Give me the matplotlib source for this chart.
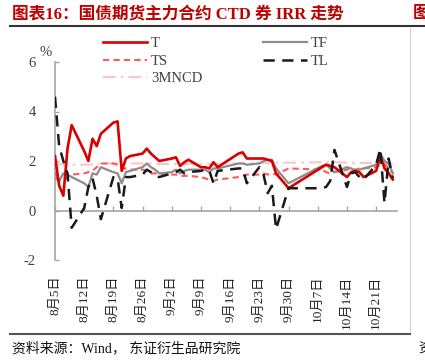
import matplotlib
matplotlib.use("Agg")
import matplotlib.pyplot as plt
from matplotlib.lines import Line2D
import pandas as pd

dates = pd.to_datetime([
    "2024-08-05", "2024-08-06", "2024-08-07", "2024-08-08", "2024-08-09",
    "2024-08-12", "2024-08-13", "2024-08-14", "2024-08-15", "2024-08-16",
    "2024-08-19", "2024-08-20", "2024-08-21", "2024-08-22", "2024-08-23",
    "2024-08-26", "2024-08-27", "2024-08-28", "2024-08-29", "2024-08-30",
    "2024-09-02", "2024-09-03", "2024-09-04", "2024-09-05", "2024-09-06",
    "2024-09-09", "2024-09-10", "2024-09-11", "2024-09-12", "2024-09-13",
    "2024-09-18", "2024-09-19", "2024-09-20",
    "2024-09-23", "2024-09-24", "2024-09-25", "2024-09-26", "2024-09-27",
    "2024-09-30",
    "2024-10-08", "2024-10-09", "2024-10-10", "2024-10-11",
    "2024-10-14", "2024-10-15", "2024-10-16", "2024-10-17", "2024-10-18",
    "2024-10-21", "2024-10-22", "2024-10-23", "2024-10-24", "2024-10-25",
])

T = [2.2, 1.0, 0.6, 2.5, 3.45,
     2.4, 2.0, 2.9, 2.6, 3.1,
     3.55, 3.6, 1.6, 2.1, 2.2,
     2.3, 2.5, 2.3, 2.15, 2.0,
     2.1, 2.15, 1.8, 1.95, 2.05,
     1.75, 1.75, 1.7, 1.95, 1.75,
     2.3, 2.35, 2.1,
     2.1, 2.1, 2.05, 2.0, 1.5,
     0.9,
     1.75, 1.85, 1.8, 1.75,
     1.35, 1.55, 1.6, 1.55, 1.35,
     1.6, 2.2, 1.7, 1.5, 1.25]

TF = [1.5, 1.2, 1.5, 1.45, 1.35,
      1.1, 0.95, 1.5, 1.45, 1.75,
      1.55, 1.5, 1.1, 1.55, 1.6,
      1.75, 1.9, 1.75, 1.65, 1.5,
      1.55, 1.65, 1.5, 1.6, 1.65,
      1.65, 1.65, 1.55, 1.7, 1.7,
      1.9, 1.9, 1.85,
      1.9, 2.0, 2.05, 2.05, 1.7,
      1.1,
      1.8, 1.85, 1.7, 1.55,
      1.75, 1.7, 1.6, 1.65, 1.7,
      1.85, 2.3, 2.0, 1.9, 1.5]

TS = [1.3, 1.2, 1.2, 1.35, 1.45,
      1.5, 1.55, 1.6, 1.75, 1.9,
      1.9, 1.85, 1.7, 1.7, 1.65,
      1.65, 1.6, 1.5, 1.5, 1.45,
      1.45, 1.45, 1.4, 1.4, 1.4,
      1.35, 1.3, 1.25, 1.2, 1.25,
      1.35, 1.4, 1.45,
      1.45, 1.5, 1.45, 1.5, 1.45,
      1.7,
      1.65, 1.55, 1.5, 1.55,
      1.65, 1.7, 1.65, 1.7, 1.7,
      1.75, 1.85, 1.9, 1.7, 1.5]

TL = [4.6, 2.6, 2.0, 1.5, -0.7,
      0.1, 0.95, 1.3, 0.6, -0.35,
      1.35, 1.3, 0.1, 1.35, 1.35,
      1.45, 1.65, 1.55, 1.4, 1.35,
      1.5, 1.55, 1.65, 1.5, 1.55,
      1.6, 1.65, 1.6, 1.1, 1.6,
      1.7, 1.7, 1.1,
      1.75, 1.45, 0.7, 1.0, -0.75,
      0.9,
      0.9, 0.95, 1.2, 2.45,
      0.95, 1.5, 1.55, 1.35, 1.25,
      1.85, 2.5, 0.3, 2.1, 1.3]

NCD3M = [1.9, 1.88, 1.85, 1.85, 1.85,
         1.85, 1.85, 1.87, 1.88, 1.9,
         1.9, 1.9, 1.9, 1.9, 1.9,
         1.9, 1.9, 1.9, 1.88, 1.88,
         1.88, 1.88, 1.88, 1.88, 1.88,
         1.88, 1.88, 1.88, 1.88, 1.9,
         1.9, 1.9, 1.9,
         1.92, 1.92, 1.93, 1.93, 1.93,
         1.93,
         1.95, 1.95, 1.95, 1.95,
         1.93, 1.92, 1.92, 1.92, 1.92,
         1.92, 1.92, 1.9, 1.9, 1.9]

tick_dates = pd.to_datetime([
    "2024-08-05", "2024-08-12", "2024-08-19", "2024-08-26", "2024-09-02",
    "2024-09-09", "2024-09-16", "2024-09-23", "2024-09-30", "2024-10-07",
    "2024-10-14", "2024-10-21"])
tick_labels = ["8月5日", "8月12日", "8月19日", "8月26日", "9月2日", "9月9日",
               "9月16日", "9月23日", "9月30日", "10月7日", "10月14日", "10月21日"]
y_ticks = [-2, 0, 2, 4, 6]

W, H = 425, 362
fig = plt.figure(figsize=(W / 100, H / 100), dpi=100)
fig.patch.set_facecolor("white")

def fx(px):
    return px / W

def fy(py):
    return 1 - py / H

ax = fig.add_axes([fx(55), fy(260), fx(397) - fx(55), fy(62) - fy(260)])
ax.set_facecolor("none")

serif_cjk = ["Liberation Serif", "Noto Sans CJK SC"]

lw_T, lw_TF, lw_TS, lw_TL, lw_N = 1.9, 1.6, 1.5, 1.8, 1.5
c_T, c_TF, c_TS, c_TL, c_N = "#D90000", "#8C8C8C", "#FF5A5A", "#1A1A1A", "#FFC4C4"
ls_TS = (0, (3.0, 2.0))
ls_TL = (0, (4.5, 3.0))
ls_N = (0, (6, 2.5, 1.2, 2.5))

ax.plot(dates, T, color=c_T, lw=lw_T, solid_joinstyle="round", zorder=5)
ax.plot(dates, TF, color=c_TF, lw=lw_TF, solid_joinstyle="round", zorder=4)
ax.plot(dates, TS, color=c_TS, lw=lw_TS, linestyle=ls_TS, zorder=3)
ax.plot(dates, TL, color=c_TL, lw=lw_TL, linestyle=ls_TL, zorder=6)
ax.plot(dates, NCD3M, color=c_N, lw=lw_N, linestyle=ls_N, zorder=2)

ax.set_xlim(pd.Timestamp("2024-08-05"), pd.Timestamp("2024-10-26"))
ax.set_ylim(-2, 6)

for s in ["top", "right"]:
    ax.spines[s].set_visible(False)
ax.spines["left"].set_color("#A6A6A6")
ax.spines["left"].set_linewidth(1.2)
ax.spines["bottom"].set_position(("data", 0))
ax.spines["bottom"].set_color("#A6A6A6")
ax.spines["bottom"].set_linewidth(1.2)

ax.set_yticks(y_ticks)
ax.set_yticklabels([str(v) for v in y_ticks], family="Liberation Serif", fontsize=10.5, color="#404040")
ax.tick_params(axis="y", direction="in", length=3, width=1, color="#A6A6A6", pad=14)

ax.set_xticks(tick_dates)
ax.set_xticklabels(tick_labels, rotation=90, family=serif_cjk, fontsize=9.5, color="#222222",
                   va="top", ha="center")
ax.tick_params(axis="x", direction="in", length=3.5, width=1, color="#A6A6A6", pad=47)

fig.text(fx(40), fy(53), "%", family="Liberation Serif", fontsize=10.5, color="#404040",
         ha="left", va="center")

handles1 = [Line2D([], [], color=c_T, lw=lw_T),
            Line2D([], [], color=c_TS, lw=lw_TS, linestyle=ls_TS),
            Line2D([], [], color=c_N, lw=lw_N, linestyle=ls_N)]
handles2 = [Line2D([], [], color=c_TF, lw=lw_TF),
            Line2D([], [], color=c_TL, lw=lw_TL, linestyle=ls_TL)]
leg_kw = dict(loc="upper left", frameon=False, borderpad=0, borderaxespad=0,
              handlelength=3.0, handletextpad=0.3, labelspacing=0.3,
              prop={"family": "Liberation Serif", "size": 10.5})
leg1 = fig.legend(handles1, ["T", "TS", "3MNCD"], bbox_to_anchor=(fx(103), fy(37)), **leg_kw)
leg2 = fig.legend(handles2, ["TF", "TL"], bbox_to_anchor=(fx(263), fy(37)), **leg_kw)
for lg in (leg1, leg2):
    for t in lg.get_texts():
        t.set_color("#404040")

# Title and report frame
fig.text(fx(12), fy(14), "图表16：国债期货主力合约 CTD 券 IRR 走势", family=serif_cjk,
         fontsize=12, fontweight="bold", color="#C00000", ha="left", va="center")
fig.text(fx(413), fy(14), "图", family=serif_cjk, fontsize=12, fontweight="bold",
         color="#C00000", ha="left", va="center")
fig.add_artist(Line2D([fx(10), fx(425)], [fy(25.5), fy(25.5)], color="#333333", lw=1.5))
fig.add_artist(Line2D([fx(410), fx(410)], [fy(28), fy(332)], color="#D0D0D0", lw=0.8))
fig.add_artist(Line2D([fx(10), fx(410)], [fy(333.5), fy(333.5)], color="#555555", lw=1.5))
fig.text(fx(12), fy(348), "资料来源：Wind， 东证衍生品研究院", family=serif_cjk,
         fontsize=10, color="#111111", ha="left", va="center")
fig.text(fx(418), fy(348), "资", family=serif_cjk, fontsize=10, color="#111111",
         ha="left", va="center")

fig.savefig("out.png", dpi=100, facecolor="white")
